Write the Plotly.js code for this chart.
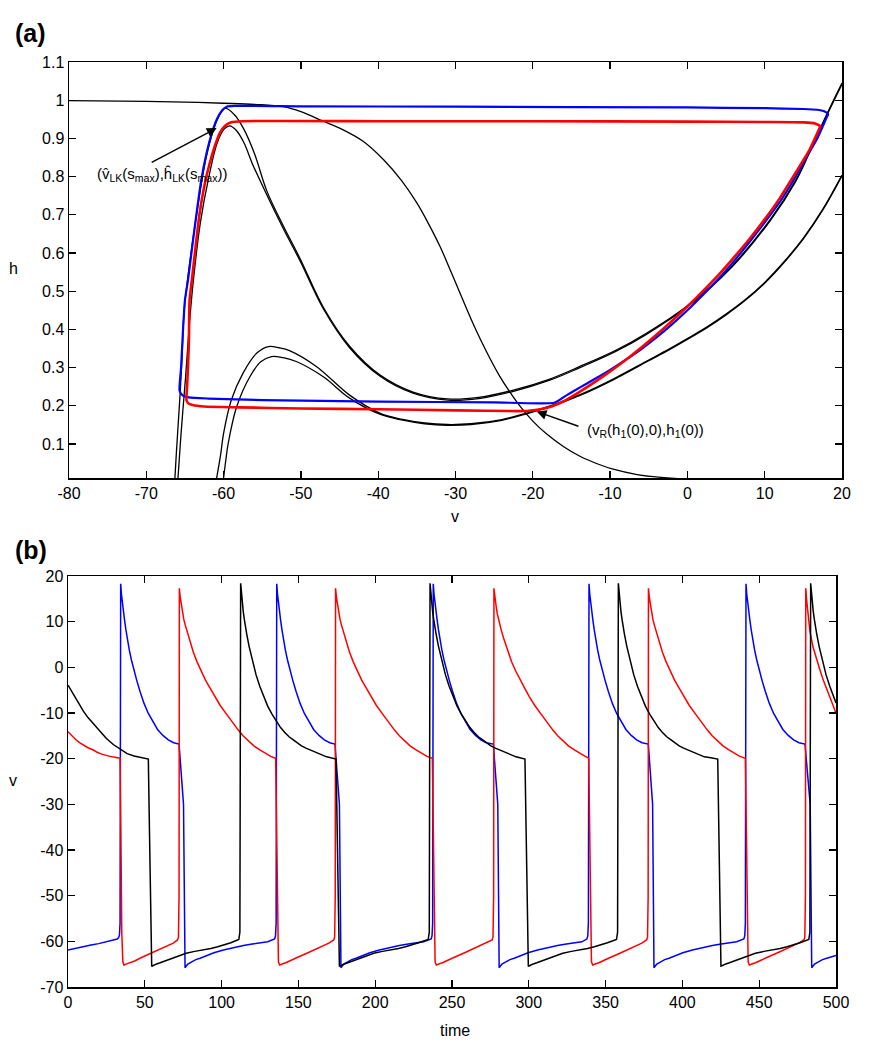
<!DOCTYPE html>
<html>
<head>
<meta charset="utf-8">
<script src="https://cdn.plot.ly/plotly-3.0.1.min.js"></script>
<style>html,body{margin:0;padding:0;background:#fff;}#chart{width:874px;height:1050px;}</style>
</head>
<body>
<div id="chart"></div>
<script>
// ---------- Panel (a): phase plane (v, h) ----------
const hInfCurve = [[-80,0.999],[-70,0.997],[-65,0.995],[-60,0.992],[-56,0.989],[-52.3,0.983],[-50,0.97],[-47.1,0.945],[-45,0.927],[-42,0.893],[-39.3,0.844],[-37,0.79],[-35,0.731],[-33.5,0.677],[-32,0.617],[-30.5,0.547],[-29,0.475],[-27.5,0.405],[-26,0.342],[-24.5,0.285],[-23,0.237],[-21.5,0.195],[-20,0.16],[-18.2,0.126],[-16,0.093],[-13.9,0.068],[-11.5,0.047],[-9.6,0.034],[-6.5,0.02],[-3,0.012],[2,0.006],[10,0.003],[20,0.001]];

const nullclineS0 = [[-66.3,0.011],[-66.1,0.08],[-65.85,0.16],[-65.6,0.24],[-65.35,0.34],[-65.1,0.45],[-64.6,0.54],[-63.5,0.70],[-62.2,0.855],[-61.0,0.94],[-60.2,0.972],[-59.8,0.979],[-58.6,0.962],[-57.4,0.925],[-56,0.86],[-54.4,0.762],[-52.3,0.672],[-50.1,0.585],[-47.1,0.458],[-43.7,0.356],[-39.8,0.281],[-35.5,0.236],[-31,0.218],[-27,0.222],[-22.5,0.241],[-17.8,0.27],[-13.9,0.303],[-9.2,0.346],[-5.3,0.39],[0,0.462],[5.7,0.565],[10.8,0.69],[14,0.79],[15.9,0.87],[18,0.962],[20,1.045]];

const nullclineSmax = [[-65.9,0.011],[-65.6,0.1],[-65.3,0.18],[-64.9,0.28],[-64.4,0.42],[-63.9,0.53],[-63.0,0.68],[-61.9,0.80],[-60.8,0.89],[-59.9,0.925],[-59.2,0.933],[-58.4,0.922],[-57.4,0.89],[-56.2,0.83],[-54.4,0.752],[-52.3,0.665],[-50.1,0.579],[-47.1,0.454],[-43.7,0.352],[-39.8,0.278],[-35.5,0.233],[-31,0.215],[-27,0.219],[-22.5,0.238],[-17.8,0.267],[-13.9,0.3],[-9.2,0.343],[-5.3,0.387],[0,0.459],[5.7,0.562],[10.8,0.687],[14,0.787],[15.9,0.867],[18,0.959],[20,1.042]];

const humpOuter = [[-60.9,0.011],[-60.4,0.07],[-60.0,0.128],[-59.0,0.215],[-57.5,0.285],[-55.7,0.338],[-54.2,0.355],[-52.8,0.352],[-51.4,0.344],[-48.0,0.303],[-43.7,0.228],[-39.8,0.181],[-37,0.165],[-34,0.155],[-31.1,0.151],[-28,0.153],[-24,0.164],[-20.8,0.181],[-17,0.205],[-13.9,0.229],[-9.6,0.27],[-5,0.32],[-2.5,0.347],[0,0.376],[2.5,0.406],[5,0.44],[7.5,0.478],[10,0.523],[12.5,0.577],[15,0.639],[17.5,0.714],[20,0.804]];

const humpInner = [[-60.0,0.011],[-59.7,0.06],[-59.4,0.102],[-58.3,0.198],[-56.6,0.276],[-55.2,0.315],[-53.8,0.329],[-52.3,0.326],[-50.6,0.316],[-47.1,0.276],[-43.7,0.220],[-39.8,0.178],[-37,0.163],[-34,0.153],[-31.1,0.149],[-28,0.151],[-24,0.162],[-20.8,0.179],[-17,0.203],[-13.9,0.227],[-9.6,0.268],[-5,0.318],[-2.5,0.345],[0,0.374],[2.5,0.404],[5,0.438],[7.5,0.476],[10,0.521],[12.5,0.575],[15,0.637],[17.5,0.712],[20,0.802]];

const blueOrbit = [[-65.7,0.24],[-65.5,0.3],[-65.3,0.38],[-65.0,0.477],[-64.6,0.53],[-64.1,0.61],[-63.5,0.704],[-62.9,0.79],[-62.2,0.862],[-61.5,0.915],[-60.9,0.949],[-60.2,0.973],[-59.6,0.983],[-58.5,0.985],[-50,0.984],[-30,0.983],[0,0.981],[10,0.979],[15,0.977],[16.8,0.975],[17.7,0.971],[18.2,0.964],[17.9,0.95],[17.5,0.931],[16.8,0.9],[15.8,0.865],[14,0.8],[12,0.735],[10,0.68],[8,0.628],[6,0.578],[4,0.532],[2,0.49],[0,0.45],[-2,0.413],[-4,0.379],[-6,0.348],[-8,0.32],[-10,0.294],[-12,0.27],[-14,0.247],[-15.6,0.228],[-17.2,0.208],[-25,0.209],[-40,0.211],[-55,0.215],[-62,0.219],[-64.5,0.222],[-65.3,0.227],[-65.7,0.24]];

const redOrbit = [[-64.8,0.215],[-64.7,0.26],[-64.5,0.36],[-64.4,0.477],[-64.1,0.53],[-63.6,0.62],[-63.1,0.704],[-62.5,0.775],[-61.8,0.835],[-61.1,0.882],[-60.5,0.914],[-59.8,0.933],[-59,0.942],[-57.5,0.945],[-40,0.945],[-20,0.945],[0,0.944],[10,0.943],[15,0.942],[16.5,0.939],[17.2,0.932],[17.1,0.927],[16.5,0.9],[15.8,0.870],[14,0.81],[12,0.745],[10,0.688],[8,0.636],[6,0.588],[4,0.542],[2,0.5],[0,0.46],[-2,0.422],[-4,0.386],[-6,0.352],[-8,0.32],[-10,0.29],[-12,0.262],[-14,0.236],[-16,0.212],[-17.5,0.199],[-19,0.191],[-20.5,0.187],[-22,0.186],[-30,0.188],[-40,0.191],[-50,0.193],[-58,0.196],[-62.5,0.198],[-64,0.202],[-64.6,0.207],[-64.8,0.215]];

// ---------- Panel (b): voltage traces (time, v) ----------
const blueTrace = [
[0,-61.9],[5,-61.5],[10,-61.1],[15,-60.8],[20,-60.5],[25,-60.15],[30,-59.8],[32,-59.5],[33,-59.2],[33.5,-58.6],[33.9,-56],[34.3,18.3],
[34.8,16],[35.3,14.2],[36,12.4],[36.8,10.4],[37.7,8.2],[38.7,5.9],[39.9,3.8],[41.3,1.6],[42.9,-0.6],[44.7,-2.8],[46.9,-5.3],[49.5,-7.9],[52.3,-10.1],[55.3,-12],[58.3,-13.6],[61.8,-14.9],[65.3,-15.9],[68.8,-16.5],[72.3,-16.8],
[75.2,-30],[75.8,-45],[76.2,-65.8],
[77,-65.4],[78,-65],[79.4,-64.7],[81,-64.4],[83.2,-64],[86,-63.7],[90.2,-63.1],[95,-62.5],[101.2,-61.9],[108,-61.3],[114.2,-60.9],[120,-60.6],[125.2,-60.35],[130,-60.1],[134.5,-59.5],[135.1,-58.8],[135.5,-56],[135.9,18.3],
[136.4,16],[136.9,14.2],[137.6,12.4],[138.4,10.4],[139.3,8.2],[140.3,5.9],[141.5,3.8],[142.9,1.6],[144.5,-0.6],[146.3,-2.8],[148.5,-5.3],[151.1,-7.9],[153.9,-10.1],[156.9,-12],[159.9,-13.6],[163.4,-14.9],[166.9,-15.9],[170.4,-16.5],[173.8,-16.8],
[176.7,-30],[177.3,-45],[177.7,-65.8],
[178.5,-65.4],[179.5,-65],[180.9,-64.7],[182.5,-64.4],[184.7,-64],[187.5,-63.7],[191.7,-63.1],[196.5,-62.5],[202.7,-61.9],[209.5,-61.3],[215.7,-60.9],[221.5,-60.6],[226.7,-60.35],[231.5,-60.1],[236.4,-59.5],[237,-58.8],[237.4,-56],[237.8,18.3],
[238.3,16],[238.8,14.2],[239.5,12.4],[240.3,10.4],[241.2,8.2],[242.2,5.9],[243.4,3.8],[244.8,1.6],[246.4,-0.6],[248.2,-2.8],[250.4,-5.3],[253,-7.9],[255.8,-10.1],[258.8,-12],[261.8,-13.6],[265.3,-14.9],[268.8,-15.9],[272.3,-16.5],[276.9,-16.8],
[279.8,-30],[280.3,-45],[280.7,-65.8],
[281.5,-65.4],[282.5,-65],[283.9,-64.7],[285.5,-64.4],[287.7,-64],[290.5,-63.7],[294.7,-63.1],[299.5,-62.5],[305.7,-61.9],[312.5,-61.3],[318.7,-60.9],[324.5,-60.6],[329.7,-60.35],[334.5,-60.1],[337.8,-59.5],[338.4,-58.8],[338.8,-56],[339.2,18.3],
[339.7,16],[340.2,14.2],[340.9,12.4],[341.7,10.4],[342.6,8.2],[343.6,5.9],[344.8,3.8],[346.2,1.6],[347.8,-0.6],[349.6,-2.8],[351.8,-5.3],[354.4,-7.9],[357.2,-10.1],[360.2,-12],[363.2,-13.6],[366.7,-14.9],[370.2,-15.9],[373.7,-16.5],[377.8,-16.8],
[380.6,-30],[381.1,-45],[381.5,-65.8],
[382.3,-65.4],[383.3,-65],[384.7,-64.7],[386.3,-64.4],[388.5,-64],[391.3,-63.7],[395.5,-63.1],[400.3,-62.5],[406.5,-61.9],[413.3,-61.3],[419.5,-60.9],[425.3,-60.6],[430.5,-60.35],[435.3,-60.1],[440,-59.5],[440.6,-58.8],[441,-56],[441.4,18.3],
[441.9,16],[442.4,14.2],[443.1,12.4],[443.9,10.4],[444.8,8.2],[445.8,5.9],[447,3.8],[448.4,1.6],[450,-0.6],[451.8,-2.8],[454,-5.3],[456.6,-7.9],[459.4,-10.1],[462.4,-12],[465.4,-13.6],[468.9,-14.9],[472.4,-15.9],[475.9,-16.5],[479.8,-16.8],
[483.2,-30],[483.7,-45],[484.2,-65.8],
[485,-65.4],[486,-65],[487.4,-64.7],[489,-64.4],[491.2,-64],[494,-63.7],[500,-63.1]];

const redTrace = [
[0,-14.1],[2.5,-15],[5,-15.8],[7.5,-16.5],[10,-17],[13,-17.6],[16.5,-18.1],[19,-18.6],[22,-19],[24.5,-19.3],[27.3,-19.5],[30.5,-19.7],[33.9,-19.9],
[34.4,-35],[35,-58],[35.7,-64.5],[36.5,-65.2],
[37.3,-65.05],[38.5,-64.9],[40.5,-64.7],[43.4,-64.3],[47.5,-63.6],[54.2,-62.6],[59.5,-61.8],[65,-61],[68.5,-60.4],[71.3,-59.7],[71.9,-59.1],[72.3,-50],[72.5,17.3],
[73,15.5],[73.5,14.2],[74,13.2],[74.7,11.7],[75.4,10.5],[76.3,9.3],[77.3,8.1],[78.7,6.5],[80.1,5],[81.6,3.3],[84,1.2],[86.5,-0.7],[89.5,-2.8],[92.4,-4.5],[95.5,-6.4],[99,-8.3],[103.3,-10.3],[107.5,-12.3],[111,-13.8],[114,-15],[117.5,-16.2],[121,-17.2],[124.9,-18.1],[128.5,-18.9],[132,-19.5],[135.2,-19.9],
[135.7,-35],[136.3,-58],[137,-64.5],[137.8,-65.2],
[138.6,-65.05],[139.8,-64.9],[141.8,-64.7],[144.7,-64.3],[148.8,-63.6],[155.5,-62.6],[160.8,-61.8],[166.3,-61],[169.8,-60.4],[173,-59.7],[173.6,-59.1],[174,-50],[174.2,17.3],
[174.7,15.5],[175.2,14.2],[175.7,13.2],[176.4,11.7],[177.1,10.5],[178,9.3],[179,8.1],[180.4,6.5],[181.8,5],[183.3,3.3],[185.7,1.2],[188.2,-0.7],[191.2,-2.8],[194.1,-4.5],[197.2,-6.4],[200.7,-8.3],[205,-10.3],[209.2,-12.3],[212.7,-13.8],[215.7,-15],[219.2,-16.2],[222.7,-17.2],[226.6,-18.1],[230.2,-18.9],[233.7,-19.5],[237.2,-19.9],
[237.7,-35],[238.3,-58],[239,-64.5],[239.8,-65.2],
[240.6,-65.05],[241.8,-64.9],[243.8,-64.7],[246.7,-64.3],[250.8,-63.6],[257.5,-62.6],[262.8,-61.8],[268.3,-61],[271.8,-60.4],[276.1,-59.7],[276.7,-59.1],[277.1,-50],[277.3,17.3],
[277.8,15.5],[278.3,14.2],[278.8,13.2],[279.5,11.7],[280.2,10.5],[281.1,9.3],[282.1,8.1],[283.5,6.5],[284.9,5],[286.4,3.3],[288.8,1.2],[291.3,-0.7],[294.3,-2.8],[297.2,-4.5],[300.3,-6.4],[303.8,-8.3],[308.1,-10.3],[312.3,-12.3],[315.8,-13.8],[318.8,-15],[322.3,-16.2],[325.8,-17.2],[329.7,-18.1],[333.3,-18.9],[336.8,-19.5],[339,-19.9],
[339.5,-35],[340.1,-58],[340.8,-64.5],[341.6,-65.2],
[342.4,-65.05],[343.6,-64.9],[345.6,-64.7],[348.5,-64.3],[352.6,-63.6],[359.3,-62.6],[364.6,-61.8],[370.1,-61],[373.6,-60.4],[376.7,-59.7],[377.3,-59.1],[377.7,-50],[377.9,17.3],
[378.4,15.5],[378.9,14.2],[379.4,13.2],[380.1,11.7],[380.8,10.5],[381.7,9.3],[382.7,8.1],[384.1,6.5],[385.5,5],[387,3.3],[389.4,1.2],[391.9,-0.7],[394.9,-2.8],[397.8,-4.5],[400.9,-6.4],[404.4,-8.3],[408.7,-10.3],[412.9,-12.3],[416.4,-13.8],[419.4,-15],[422.9,-16.2],[426.4,-17.2],[430.3,-18.1],[433.9,-18.9],[437.4,-19.5],[441,-19.9],
[441.5,-35],[442.1,-58],[442.8,-64.5],[443.6,-65.2],
[444.4,-65.05],[445.6,-64.9],[447.6,-64.7],[450.5,-64.3],[454.6,-63.6],[461.3,-62.6],[466.6,-61.8],[472.1,-61],[475.6,-60.4],[479.1,-59.7],[479.7,-59.1],[480.1,-50],[480.3,17.3],
[480.8,15],[481.5,12.6],[482.2,10.2],[483,8],[485,4.5],[487,2],[489.3,-0.3],[491.7,-2.8],[494,-4.7],[496,-6.4],[498,-8.2],[500,-10]];

const blackTrace = [
[0,-3.9],[2.5,-5.4],[5,-6.9],[7.5,-8.3],[10,-9.6],[13,-11],[16.5,-12.4],[20.5,-14],[25,-15.6],[29.5,-16.9],[34,-18],[38.5,-18.9],[43,-19.4],[47.5,-19.8],[52.3,-20.1],
[53,-35],[53.6,-50],[54,-62],[54.5,-65.5],
[55.2,-65.35],[56,-65.2],[57.7,-64.95],[60,-64.7],[62.5,-64.4],[65,-64.1],[70.5,-63.3],[76.9,-62.6],[82.5,-62.2],[88,-61.9],[93,-61.55],[97.5,-61.2],[102,-60.8],[106,-60.3],[111.2,-59.6],[111.9,-58],[112.4,18.4],
[112.9,16.2],[113.5,14.1],[114.1,12.2],[114.8,10.5],[115.5,8.9],[116.3,7.4],[117.9,4.6],[120,1.5],[122.4,-1.6],[124.9,-4.2],[127.4,-6.5],[130,-8.5],[132.9,-10.3],[135.8,-11.9],[138.4,-13.2],[141,-14.2],[143.9,-15.2],[146.7,-15.9],[149.4,-16.6],[152,-17.2],[154.9,-17.7],[157.6,-18.1],[161.4,-18.7],[165,-19.2],[168.4,-19.6],[174.5,-20.1],
[175.2,-35],[175.8,-50],[176.2,-62],[176.7,-65.5],
[177.4,-65.35],[178.2,-65.2],[179.9,-64.95],[182.2,-64.7],[184.7,-64.4],[187.2,-64.1],[192.7,-63.3],[199.1,-62.6],[204.7,-62.2],[210.2,-61.9],[215.2,-61.55],[219.7,-61.2],[224.2,-60.8],[228.2,-60.3],[234.5,-59.6],[235.2,-58],[235.7,18.4],
[236.2,16.2],[236.8,14.1],[237.4,12.2],[238.1,10.5],[238.8,8.9],[239.6,7.4],[241.2,4.6],[243.3,1.5],[245.7,-1.6],[248.2,-4.2],[250.7,-6.5],[253.3,-8.5],[256.2,-10.3],[259.1,-11.9],[261.7,-13.2],[264.3,-14.2],[267.2,-15.2],[270,-15.9],[272.7,-16.6],[275.3,-17.2],[278.2,-17.7],[280.9,-18.1],[284.7,-18.7],[288.3,-19.2],[291.7,-19.6],[297.5,-20.1],
[298.2,-35],[298.8,-50],[299.2,-62],[299.7,-65.5],
[300.4,-65.35],[301.2,-65.2],[302.9,-64.95],[305.2,-64.7],[307.7,-64.4],[310.2,-64.1],[315.7,-63.3],[322.1,-62.6],[327.7,-62.2],[333.2,-61.9],[338.2,-61.55],[342.7,-61.2],[347.2,-60.8],[351.2,-60.3],[357.1,-59.6],[357.8,-58],[358.3,18.4],
[358.8,16.2],[359.4,14.1],[360,12.2],[360.7,10.5],[361.4,8.9],[362.2,7.4],[363.8,4.6],[365.9,1.5],[368.3,-1.6],[370.8,-4.2],[373.3,-6.5],[375.9,-8.5],[378.8,-10.3],[381.7,-11.9],[384.3,-13.2],[386.9,-14.2],[389.8,-15.2],[392.6,-15.9],[395.3,-16.6],[397.9,-17.2],[400.8,-17.7],[403.5,-18.1],[407.3,-18.7],[410.9,-19.2],[414.3,-19.6],[418.5,-19.8],[423,-20.1],
[423.7,-35],[424.3,-50],[424.7,-62],[425.1,-65.4],
[425.8,-65.35],[426.6,-65.2],[428.3,-64.95],[430.6,-64.7],[433.1,-64.4],[435.6,-64.1],[441.1,-63.3],[447.5,-62.6],[453.1,-62.2],[458.6,-61.9],[463.6,-61.55],[468.1,-61.2],[472.6,-60.8],[476.6,-60.3],[482.3,-59.6],[483,-58],[483.5,18.4],
[484,16.2],[484.6,14.1],[485.2,12.2],[485.9,10.5],[486.6,8.9],[487.4,7.4],[489,4.6],[491.1,1.5],[493.5,-1.6],[496,-4.2],[498,-6],[500,-7.8]];

// ---------- Tick labels ----------
const xTicksA = [-80,-70,-60,-50,-40,-30,-20,-10,0,10,20];
const xTickTextA = ['-80','-70','-60','-50','-40','-30','-20','-10','0','10','20'];
const yTicksA = [0.1,0.2,0.3,0.4,0.5,0.6,0.7,0.8,0.9,1.0,1.1];
const yTickTextA = ['0.1','0.2','0.3','0.4','0.5','0.6','0.7','0.8','0.9','1','1.1'];
const xTicksB = [0,50,100,150,200,250,300,350,400,450,500];
const xTickTextB = ['0','50','100','150','200','250','300','350','400','450','500'];
const yTicksB = [-70,-60,-50,-40,-30,-20,-10,0,10,20];
const yTickTextB = ['-70','-60','-50','-40','-30','-20','-10','0','10','20'];

// ---------- Build traces ----------
const xs = a => a.map(p => p[0]);
const ys = a => a.map(p => p[1]);
function curve(arr, color, width, xa, ya, smooth) {
  const line = {color: color, width: width};
  if (smooth) { line.shape = 'spline'; line.smoothing = smooth; }
  return {x: xs(arr), y: ys(arr), type: 'scatter', mode: 'lines', xaxis: xa, yaxis: ya, line: line, hoverinfo: 'skip'};
}
const traces = [
  curve(hInfCurve, '#000', 1.3, 'x', 'y', 1.0),
  curve(nullclineS0, '#000', 1.3, 'x', 'y', 1.0),
  curve(nullclineSmax, '#000', 1.3, 'x', 'y', 1.0),
  curve(humpOuter, '#000', 1.3, 'x', 'y', 1.0),
  curve(humpInner, '#000', 1.3, 'x', 'y', 1.0),
  curve(blueOrbit, '#0000ff', 2.2, 'x', 'y', 0.5),
  curve(redOrbit, '#ff0000', 2.6, 'x', 'y', 0.5),
  curve(blueTrace, '#0000ff', 1.5, 'x2', 'y2', 0),
  curve(redTrace, '#ff0000', 1.5, 'x2', 'y2', 0),
  curve(blackTrace, '#000000', 1.5, 'x2', 'y2', 0)
];

const FONT = 'Arial, "Liberation Sans", Helvetica, sans-serif';
function axis(extra) {
  return Object.assign({
    showline: true, linecolor: '#000', linewidth: 1.5, mirror: 'ticks',
    ticks: 'inside', ticklen: 7, tickwidth: 1.3, tickcolor: '#000',
    showgrid: false, zeroline: false, automargin: false, fixedrange: true,
    tickfont: {family: FONT, size: 16, color: '#000'}, tickmode: 'array'
  }, extra);
}

const W = 874, H = 1050;
const layout = {
  width: W, height: H, margin: {l: 0, r: 0, t: 0, b: 0},
  paper_bgcolor: '#fff', plot_bgcolor: '#fff', showlegend: false,
  font: {family: FONT, size: 16, color: '#000'},
  xaxis: axis({domain: [69/W, 842/W], range: [-80, 20], anchor: 'y', tickvals: xTicksA, ticktext: xTickTextA}),
  yaxis: axis({domain: [1-478/H, 1-62/H], range: [0.011, 1.1], anchor: 'x', tickvals: yTicksA, ticktext: yTickTextA}),
  xaxis2: axis({domain: [68/W, 836/W], range: [0, 500], anchor: 'y2', tickvals: xTicksB, ticktext: xTickTextB}),
  yaxis2: axis({domain: [1-987/H, 1-576/H], range: [-70, 20], anchor: 'x2', tickvals: yTicksB, ticktext: yTickTextB}),
  annotations: [
    {xref: 'x', yref: 'y', axref: 'x', ayref: 'y', x: -60.9, y: 0.927, ax: -69.5, ay: 0.835,
     text: '', showarrow: true, arrowhead: 2, arrowsize: 1.4, arrowwidth: 1.4, arrowcolor: '#000'},
    {xref: 'x', yref: 'y', x: -76.6, y: 0.805, xanchor: 'left', yanchor: 'middle', showarrow: false,
     text: '(v\u0302<sub>LK</sub>(s<sub>max</sub>),h\u0302<sub>LK</sub>(s<sub>max</sub>))',
     font: {family: FONT, size: 15, color: '#000'}},
    {xref: 'x', yref: 'y', axref: 'x', ayref: 'y', x: -19.5, y: 0.185, ax: -13.9, ay: 0.145,
     text: '', showarrow: true, arrowhead: 2, arrowsize: 1.4, arrowwidth: 1.4, arrowcolor: '#000'},
    {xref: 'x', yref: 'y', x: -13.3, y: 0.135, xanchor: 'left', yanchor: 'middle', showarrow: false,
     text: '(v<sub>R</sub>(h<sub>1</sub>(0),0),h<sub>1</sub>(0))',
     font: {family: FONT, size: 15, color: '#000'}},
    {xref: 'paper', yref: 'paper', x: 13/W, y: 1-33/H, xanchor: 'left', yanchor: 'middle', showarrow: false,
     text: '<b>(a)</b>', font: {family: FONT, size: 25, color: '#000'}},
    {xref: 'paper', yref: 'paper', x: 13/W, y: 1-550/H, xanchor: 'left', yanchor: 'middle', showarrow: false,
     text: '<b>(b)</b>', font: {family: FONT, size: 25, color: '#000'}},
    {xref: 'paper', yref: 'paper', x: 13/W, y: 1-268/H, xanchor: 'center', yanchor: 'middle', showarrow: false,
     text: 'h', font: {family: FONT, size: 16, color: '#000'}},
    {xref: 'paper', yref: 'paper', x: 455/W, y: 1-516/H, xanchor: 'center', yanchor: 'middle', showarrow: false,
     text: 'v', font: {family: FONT, size: 16, color: '#000'}},
    {xref: 'paper', yref: 'paper', x: 13/W, y: 1-780/H, xanchor: 'center', yanchor: 'middle', showarrow: false,
     text: 'v', font: {family: FONT, size: 16, color: '#000'}},
    {xref: 'paper', yref: 'paper', x: 455/W, y: 1-1030/H, xanchor: 'center', yanchor: 'middle', showarrow: false,
     text: 'time', font: {family: FONT, size: 16, color: '#000'}}
  ]
};

Plotly.newPlot('chart', traces, layout, {staticPlot: true, displayModeBar: false});
</script>
</body>
</html>
